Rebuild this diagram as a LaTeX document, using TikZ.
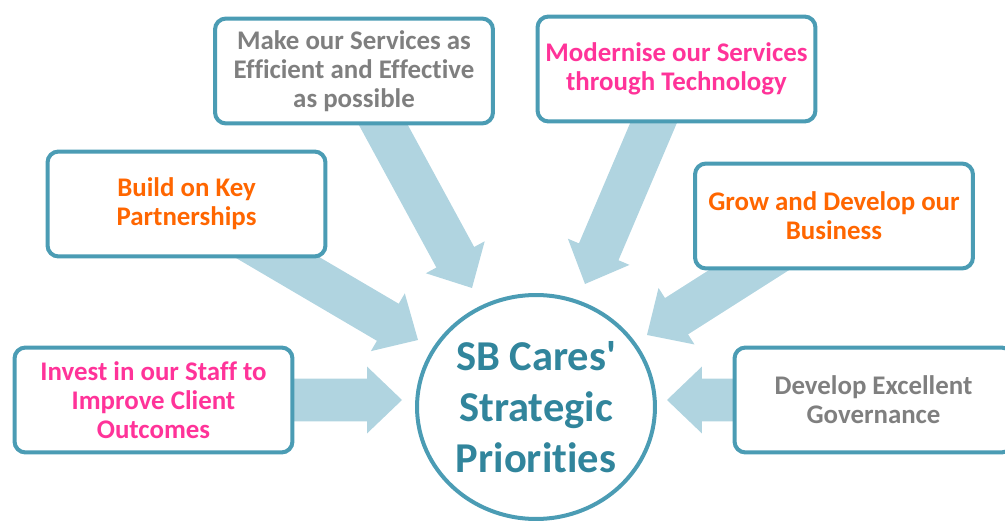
\documentclass[tikz,border=0pt]{standalone}
\usepackage{fontspec}
\setmainfont{Carlito}[Ligatures=NoCommon]
\usetikzlibrary{shapes.geometric,calc,backgrounds}

\definecolor{boxline}{RGB}{75,156,180}
\definecolor{arrowblue}{RGB}{176,212,224}
\definecolor{hubtext}{RGB}{49,133,156}
\definecolor{keyorange}{RGB}{255,102,0}
\definecolor{keypink}{RGB}{255,51,153}
\definecolor{keygrey}{RGB}{127,127,127}

\tikzset{
  priority/.style={draw=boxline, fill=white, line width=0.08cm, rounded corners=0.22cm,
    minimum width=5.56cm, minimum height=2.1cm, align=center,
    font=\fontsize{15.3}{16.5}\selectfont\bfseries},
  hub/.style={ellipse, draw=boxline, fill=white, line width=0.08cm,
    minimum width=4.76cm, minimum height=4.48cm, inner sep=0pt, align=center,
    text=hubtext, font=\fontsize{24.2}{28.9}\selectfont\bfseries},
  flow/.style={fill=arrowblue}
}

% fat block arrow from a box centre to a tip coordinate
\newcommand{\fatarrow}[2]{%
  \coordinate (#2-base) at ($(#2)!0.7cm!(#1)$);
  \fill[flow] ($(#1)!0.43cm!90:(#2)$) -- ($(#2-base)!0.43cm!90:(#2)$)
    -- ($(#2-base)!0.67cm!90:(#2)$) -- (#2)
    -- ($(#2-base)!0.67cm!-90:(#2)$) -- ($(#2-base)!0.43cm!-90:(#2)$)
    -- ($(#1)!0.43cm!-90:(#2)$) -- cycle;
}

\begin{document}
\begin{tikzpicture}[x=0.02cm, y=-0.02cm]
  \path[use as bounding box] (0,0) rectangle (1005,523);
  \clip (0,0) rectangle (1005,523);

  % priority boxes
  \node[priority, text=keygrey] (make) at (354,71) {Make our Services as\\Efficient and Effective\\as possible};
  \node[priority, text=keypink] (modern) at (676.5,69) {Modernise our Services\\through Technology};
  \node[priority, text=keyorange] (build) at (186.5,204) {Build on Key\\Partnerships};
  \node[priority, text=keyorange] (grow) at (834,216) {Grow and Develop our\\Business};
  \node[priority, text=keypink] (invest) at (153.5,400) {Invest in our Staff to\\Improve Client\\Outcomes};
  \node[priority, text=keygrey] (govern) at (873.5,400) {Develop Excellent\\Governance};

  % centre
  \node[hub] (hub) at (536,407) {SB Cares\textquotesingle\\Strategic\\Priorities};

  % arrow tips round the hub
  \coordinate (tipmake) at (472,288);
  \coordinate (tipmodern) at (585,284);
  \coordinate (tipbuild) at (418,340);
  \coordinate (tipgrow) at (647,335);
  \coordinate (tipinvest) at (402,400);
  \coordinate (tipgovern) at (667,400);

  \begin{scope}[on background layer]
    \fatarrow{make}{tipmake}
    \fatarrow{modern}{tipmodern}
    \fatarrow{build}{tipbuild}
    \fatarrow{grow}{tipgrow}
    \fatarrow{invest}{tipinvest}
    \fatarrow{govern}{tipgovern}
  \end{scope}
\end{tikzpicture}
\end{document}
